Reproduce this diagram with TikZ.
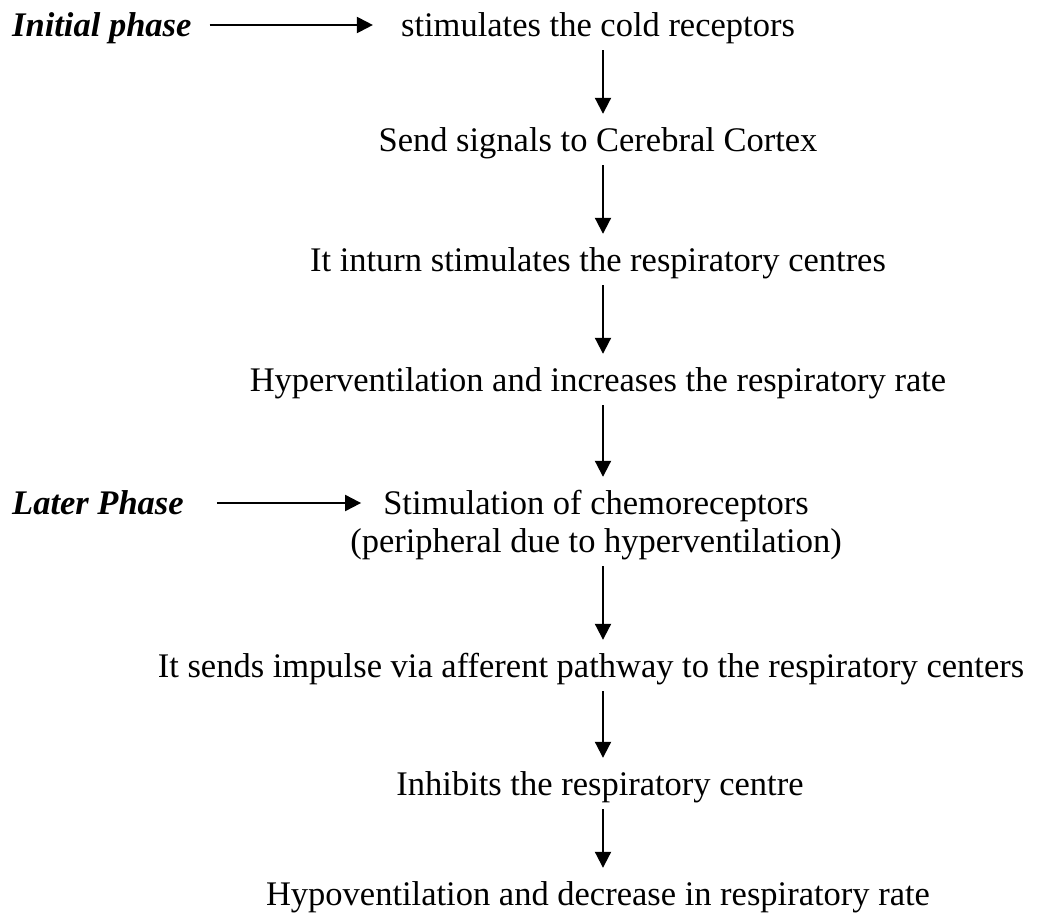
\documentclass[tikz,border=0pt]{standalone}
\usepackage{fontspec}
\setmainfont{Liberation Serif}
\usetikzlibrary{arrows.meta}
\begin{document}
\begin{tikzpicture}[x=1pt,y=1pt,
  every node/.style={inner sep=0pt, font=\fontsize{34.5}{40}\selectfont},
  txt/.style={anchor=base, text height=24pt, text depth=8pt},
  phase/.style={anchor=base west, font=\fontsize{34.5}{40}\selectfont\bfseries\itshape},
  flow/.style={line width=2pt, -{Triangle[width=16pt,length=16pt]}},
  down/.style={flow, shorten <=6pt, shorten >=13pt}]
\useasboundingbox (0,0) rectangle (1039,-919);
\node[phase] (ip) at (12,-36) {Initial phase};
\node[txt] (t1) at (598,-36) {stimulates the cold receptors};
\node[txt] (t2) at (598,-151) {Send signals to Cerebral Cortex};
\node[txt] (t3) at (598,-271) {It inturn stimulates the respiratory centres};
\node[txt] (t4) at (598,-391) {Hyperventilation and increases the respiratory rate};
\node[phase] (lp) at (12,-514) {Later Phase};
\node[txt] (t5) at (596,-514) {Stimulation of chemoreceptors};
\node[txt] (t5b) at (596,-552) {(peripheral due to hyperventilation)};
\node[txt] (t6) at (591,-677) {It sends impulse via afferent pathway to the respiratory centers};
\node[txt] (t7) at (600,-795) {Inhibits the respiratory centre};
\node[txt] (t8) at (598,-905) {Hypoventilation and decrease in respiratory rate};
\draw[flow, shorten <=18pt, shorten >=28pt] ([yshift=11pt]ip.base east) -- ([yshift=11pt]t1.base west);
\draw[flow, shorten <=33pt, shorten >=22pt] ([yshift=11pt]lp.base east) -- ([yshift=11pt]t5.base west);
\draw[down] (t1.south -| 603,0) -- (t2.north -| 603,0);
\draw[down] (t2.south -| 603,0) -- (t3.north -| 603,0);
\draw[down] (t3.south -| 603,0) -- (t4.north -| 603,0);
\draw[down] (t4.south -| 603,0) -- (t5.north -| 603,0);
\draw[down] (t5b.south -| 603,0) -- (t6.north -| 603,0);
\draw[down] (t6.south -| 603,0) -- (t7.north -| 603,0);
\draw[down] (t7.south -| 603,0) -- (t8.north -| 603,0);
\end{tikzpicture}
\end{document}
